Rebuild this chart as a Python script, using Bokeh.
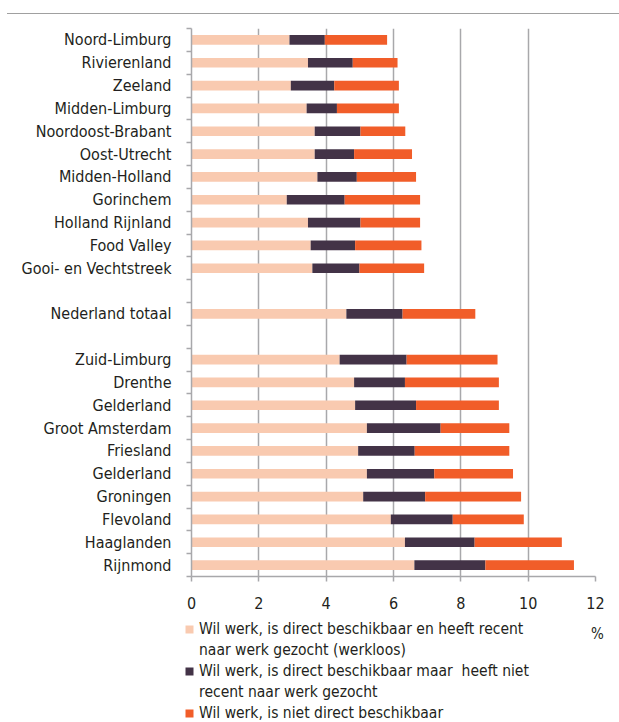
from bokeh.plotting import figure
from bokeh.models import Range1d, FixedTicker, Legend, LegendItem, Label, ColumnDataSource, Div
from bokeh.layouts import column, row
from bokeh.embed import file_html
from bokeh.resources import INLINE

nan = float("nan")

regions = ["Noord-Limburg", "Rivierenland", "Zeeland", "Midden-Limburg", "Noordoost-Brabant",
           "Oost-Utrecht", "Midden-Holland", "Gorinchem", "Holland Rijnland", "Food Valley",
           "Gooi- en Vechtstreek", "", "Nederland totaal", "", "Zuid-Limburg", "Drenthe",
           "Gelderland", "Groot Amsterdam", "Friesland", "Gelderland", "Groningen", "Flevoland",
           "Haaglanden", "Rijnmond"]

werkloos = [2.91, 3.46, 2.95, 3.42, 3.66, 3.66, 3.74, 2.83, 3.46, 3.54, 3.59, nan, 4.60, nan,
            4.40, 4.83, 4.86, 5.21, 4.95, 5.21, 5.10, 5.92, 6.34, 6.62]
niet_gezocht = [1.05, 1.33, 1.29, 0.90, 1.36, 1.17, 1.17, 1.72, 1.56, 1.32, 1.40, nan, 1.67, nan,
                1.99, 1.51, 1.81, 2.19, 1.68, 2.00, 1.84, 1.84, 2.07, 2.11]
niet_beschikbaar = [1.85, 1.33, 1.92, 1.84, 1.33, 1.72, 1.76, 2.24, 1.77, 1.97, 1.92, nan, 2.16, nan,
                    2.70, 2.79, 2.46, 2.04, 2.81, 2.34, 2.85, 2.11, 2.59, 2.63]

x_ticks = [0, 2, 4, 6, 8, 10, 12]

# each legend entry as its lines (first line carries the swatch)
legend_lines = [
    ["Wil werk, is direct beschikbaar en heeft recent", "naar werk gezocht (werkloos)"],
    ["Wil werk, is direct beschikbaar maar  heeft niet", "recent naar werk gezocht"],
    ["Wil werk, is niet direct beschikbaar"],
]
unit_label = "%"

colors = ["#F9CAB0", "#433347", "#F15D29"]
FONT = "'DejaVu Sans Condensed', 'DejaVu Sans', sans-serif"
FS = "16px"
TXT = "#231F20"
GRID = "#A8A8AB"

pos = [i + 0.5 for i in range(len(regions))]
src = ColumnDataSource(dict(pos=pos, werkloos=werkloos, niet_gezocht=niet_gezocht,
                            niet_beschikbaar=niet_beschikbaar))

# ---------------- main chart ----------------
p = figure(width=611, height=600, output_backend="svg", toolbar_location=None,
           x_range=Range1d(0, 12), y_range=Range1d(len(regions), 0),
           min_border_left=191, min_border_right=16, min_border_top=14, min_border_bottom=38,
           margin=0)

rs = p.hbar_stack(["werkloos", "niet_gezocht", "niet_beschikbaar"], y="pos", height=0.42,
                  color=colors, source=src, line_width=0)

p.outline_line_color = None
p.ygrid.grid_line_color = None
p.xgrid.ticker = FixedTicker(ticks=x_ticks)
p.xgrid.grid_line_color = GRID
p.xgrid.grid_line_width = 1.5

xa = p.xaxis[0]
xa.ticker = FixedTicker(ticks=x_ticks)
xa.axis_line_color = GRID
xa.axis_line_width = 1.5
xa.major_tick_line_color = GRID
xa.major_tick_line_width = 1.5
xa.major_tick_out = 5
xa.major_tick_in = 0
xa.minor_tick_line_color = None
xa.major_label_text_font = FONT
xa.major_label_text_font_size = FS
xa.major_label_text_color = TXT
xa.major_label_standoff = 15

ya = p.yaxis[0]
ya.ticker = FixedTicker(ticks=pos, minor_ticks=list(range(len(regions) + 1)))
ya.major_label_overrides = {pv: lab for pv, lab in zip(pos, regions)}
ya.axis_line_color = GRID
ya.axis_line_width = 1.5
ya.major_tick_line_color = None
ya.major_tick_out = 0
ya.major_tick_in = 0
ya.minor_tick_line_color = GRID
ya.minor_tick_line_width = 1.5
ya.minor_tick_out = 5
ya.minor_tick_in = 0
ya.major_label_text_font = FONT
ya.major_label_text_font_size = FS
ya.major_label_text_color = TXT
ya.major_label_standoff = 15

# ---------------- legend panel ----------------
lg = figure(width=611, height=108, output_backend="svg", toolbar_location=None,
            x_range=Range1d(0, 1), y_range=Range1d(0, 1),
            min_border_left=184, min_border_right=0, min_border_top=5, min_border_bottom=0,
            margin=0)
lg.axis.visible = False
lg.grid.visible = False
lg.outline_line_color = None
# swatch renderers: their single bar lies outside the visible range, they only feed the legend
lrs = [lg.hbar(y=[5], left=[2], right=[3], height=0.4, color=c, line_width=0) for c in colors]
blank = lg.hbar(y=[5], left=[2], right=[3], height=0.4, fill_alpha=0, line_alpha=0)

items = []
for i, lines in enumerate(legend_lines):
    items.append(LegendItem(label=lines[0], renderers=[lrs[i]], index=0))
    for extra in lines[1:]:
        items.append(LegendItem(label=extra, renderers=[blank], index=0))

legend = Legend(items=items, location="top_left", orientation="vertical",
                glyph_width=10, glyph_height=10, label_height=20, label_standoff=5,
                label_text_font=FONT, label_text_font_size="15.5px", label_text_color=TXT,
                padding=0, margin=0, spacing=1,
                border_line_color=None, background_fill_alpha=0)
lg.add_layout(legend)

lg.add_layout(Label(x=0.967, y=0.864, text=unit_label,
                    text_font=FONT, text_font_size="15px", text_color=TXT,
                    text_align="center", text_baseline="middle"))

rule = Div(text="", width=612, height=14, margin=(0, 0, 0, 7),
           styles={"border-bottom": "1px solid #A0A0A0"})

layout = column(rule, p, row(lg, margin=0), spacing=0, margin=0)
open("out.html", "w").write(file_html(layout, INLINE))
